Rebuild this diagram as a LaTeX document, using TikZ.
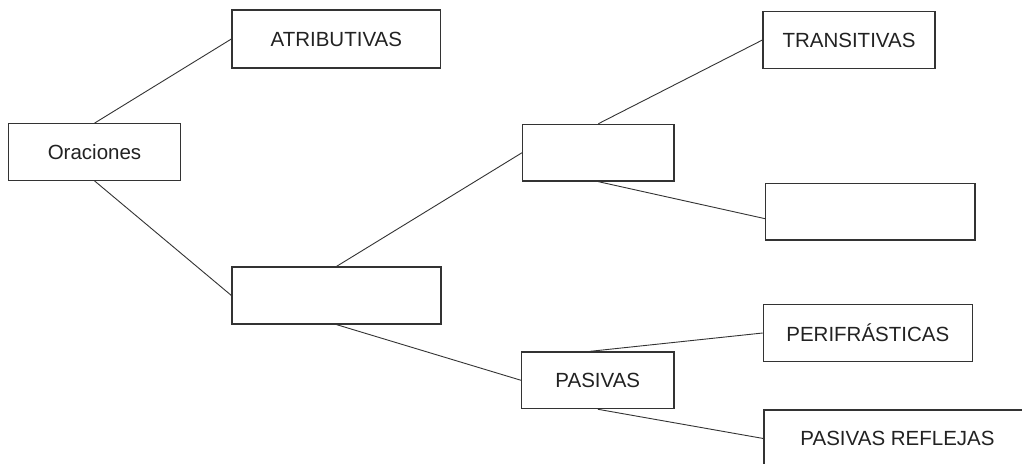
\documentclass[tikz,border=0pt]{standalone}
\usepackage{fontspec}
\setmainfont{Liberation Sans}
\definecolor{ln}{HTML}{333333}
\definecolor{tx}{HTML}{222222}
\begin{document}
\begin{tikzpicture}[x=1pt,y=-1pt,
  box/.style={draw=ln,line width=1.2pt,rectangle,inner sep=0pt,text=tx,
    font=\fontsize{20.5}{24}\selectfont},
  conn/.style={draw=ln,line width=0.9pt}]
\useasboundingbox (0,0) rectangle (1022,463);
\clip (0,0) rectangle (1022,463);
\fill[white] (0,0) rectangle (1022,463);
\node[box,minimum width=172,minimum height=56.5] (ora) at (94.5,152) {Oraciones};
\node[box,minimum width=208.7,minimum height=58] (atr) at (336.3,39) {ATRIBUTIVAS};
\node[box,minimum width=209,minimum height=57] (mid) at (336.5,295.5) {};
\node[box,minimum width=151.3,minimum height=56.7] (up) at (598.3,152.7) {};
\node[box,minimum width=152.3,minimum height=56.7] (pas) at (597.8,380.3) {PASIVAS};
\node[box,minimum width=172,minimum height=56.7] (tra) at (849,40) {TRANSITIVAS};
\node[box,minimum width=209.3,minimum height=56.7] (emp) at (870.4,211.7) {};
\node[box,minimum width=209,minimum height=56.7] (per) at (867.8,333) {PERIFRÁSTICAS};
\node[box,minimum width=267,minimum height=57] (ref) at (897.5,438.5) {PASIVAS REFLEJAS};
\draw[conn] (ora.north) -- (atr.west);
\draw[conn] (ora.south) -- (mid.west);
\draw[conn] (mid.north) -- (up.west);
\draw[conn] (mid.south) -- (pas.west);
\draw[conn] (up.north) -- (tra.west);
\draw[conn] (up.south) -- ([yshift=-7pt]emp.west);
\draw[conn] ([xshift=-8pt]pas.north) -- (per.west);
\draw[conn] (pas.south) -- (ref.west);
\end{tikzpicture}
\end{document}
